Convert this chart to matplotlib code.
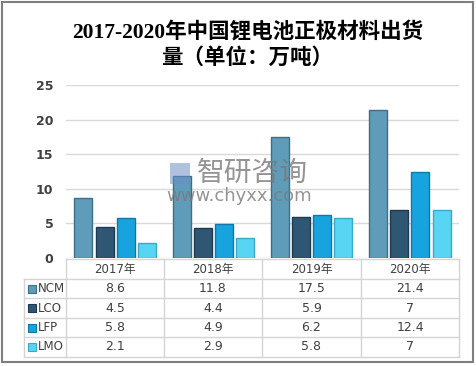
import matplotlib.pyplot as plt
from matplotlib.patches import Rectangle
from matplotlib.lines import Line2D
import numpy as np

# data
years = ["2017年", "2018年", "2019年", "2020年"]
series_names = ["NCM", "LCO", "LFP", "LMO"]
ncm = [8.6, 11.8, 17.5, 21.4]
lco = [4.5, 4.4, 5.9, 7]
lfp = [5.8, 4.9, 6.2, 12.4]
lmo = [2.1, 2.9, 5.8, 7]
series_values = [ncm, lco, lfp, lmo]
yticks = [0, 5, 10, 15, 20, 25]

fills = ["#5E9CB9", "#2F5673", "#17A4DE", "#58D5F2"]
edges = ["#3F6F86", "#1E3A50", "#0F78A8", "#39A9C8"]

W, H = 476, 366
fig = plt.figure(figsize=(W / 100, H / 100), dpi=100)
fig.patch.set_facecolor("white")


def fx(px):  # pixel x -> figure fraction
    return px / W


def fy(py):  # pixel y (from top) -> figure fraction
    return 1 - py / H


cjk = ["DejaVu Sans", "Noto Sans CJK SC"]
text_col = "#404040"

ax = fig.add_axes([fx(66), fy(258), fx(459) - fx(66), fy(85) - fy(258)])
ax.set_xlim(-0.5, len(years) - 0.5)
ax.set_ylim(0, 25)
for s in ax.spines.values():
    s.set_visible(False)
ax.set_yticks(yticks)
ax.set_yticklabels([str(t) for t in yticks], fontsize=9, fontweight="bold", color=text_col)
ax.tick_params(axis="y", length=0, pad=9)
ax.set_xticks([])
ax.yaxis.grid(True, color="#D9D9D9", lw=1)
ax.set_axisbelow(True)

# bars
x = np.arange(len(years))
pitch, bw = 0.216, 0.183
for i, vals in enumerate(series_values):
    ax.bar(x + (i - 1.5) * pitch, vals, width=bw, color=fills[i],
           edgecolor=edges[i], linewidth=1, zorder=3)

# title
title_font = ["Liberation Serif", "Noto Sans CJK SC"]
fig.text(0.52, fy(32), "2017-2020年中国锂电池正极材料出货", ha="center", va="center",
         fontsize=15.5, fontweight="bold", family=title_font)
fig.text(0.52, fy(58), "量（单位：万吨）", ha="center", va="center",
         fontsize=15.5, fontweight="bold", family=title_font)

# watermark
fig.patches.append(Rectangle((fx(170), fy(184)), fx(20), fy(163) - fy(184), transform=fig.transFigure,
                             facecolor="#6C8FC4", alpha=0.55, edgecolor="none", zorder=5))
fig.text(fx(252), fy(173), "智研咨询", ha="center", va="center", fontsize=20,
         color="#7A7A7A", alpha=0.8, family=["Noto Sans CJK SC"], zorder=6)
fig.text(fx(239), fy(196), "www.chyxx.com", ha="center", va="center", fontsize=13,
         color="#7A7A7A", alpha=0.8, zorder=6)

# data table
col_x = [66, 164, 262, 361, 459]
row_y = [259, 279, 298, 318, 337, 357]
lab_x = 24
grid_kw = dict(color="#D4D4D4", lw=1, transform=fig.transFigure)
for yy in row_y:
    left = col_x[0] if yy == row_y[0] else lab_x
    fig.lines.append(Line2D([fx(left), fx(col_x[-1])], [fy(yy), fy(yy)], **grid_kw))
for xx in col_x:
    fig.lines.append(Line2D([fx(xx), fx(xx)], [fy(row_y[0]), fy(row_y[-1])], **grid_kw))
fig.lines.append(Line2D([fx(lab_x), fx(lab_x)], [fy(row_y[1]), fy(row_y[-1])], **grid_kw))

for j, yr in enumerate(years):
    cx = (col_x[j] + col_x[j + 1]) / 2
    fig.text(fx(cx), fy((row_y[0] + row_y[1]) / 2), yr, ha="center", va="center",
             fontsize=8.5, color=text_col, family=cjk)

for i, name in enumerate(series_names):
    cy = (row_y[i + 1] + row_y[i + 2]) / 2
    fig.patches.append(Rectangle((fx(28), fy(cy + 4)), fx(8), fy(cy - 4) - fy(cy + 4),
                                 transform=fig.transFigure, facecolor=fills[i],
                                 edgecolor=edges[i], lw=0.8))
    fig.text(fx(38), fy(cy), name, ha="left", va="center", fontsize=8.5, color=text_col)
    for j, v in enumerate(series_values[i]):
        cx = (col_x[j] + col_x[j + 1]) / 2
        fig.text(fx(cx), fy(cy), f"{v:g}", ha="center", va="center", fontsize=9, color=text_col)

# outer border
fig.patches.append(Rectangle((fx(2), fy(362)), fx(471), fy(2) - fy(362), transform=fig.transFigure,
                             facecolor="none", edgecolor="#7F7F7F", lw=1.5))

fig.savefig("out.png", dpi=100)
